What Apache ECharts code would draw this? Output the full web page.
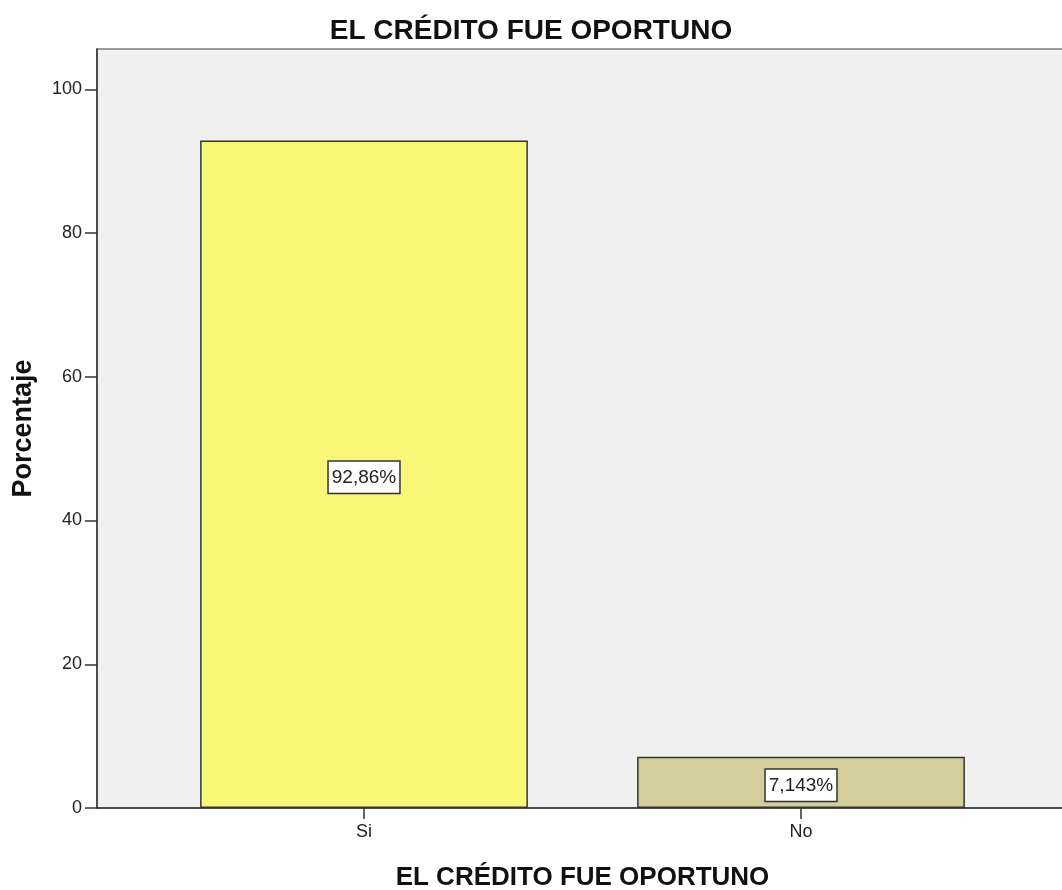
<!DOCTYPE html>
<html>
<head>
<meta charset="utf-8">
<script src="https://cdn.jsdelivr.net/npm/echarts@6/dist/echarts.min.js"></script>
<style>
  html, body { margin: 0; padding: 0; background: #fff; }
  #chart { width: 1062px; height: 890px; }
</style>
</head>
<body>
<div id="chart"></div>
<script>
// datos del gráfico
const categorias = ['Si', 'No']
const porcentajes = [92.86, 7.143]
const etiquetas = ['92,86%', '7,143%']
const coloresBarra = ['#f9f777', '#d4cf9a']
const ticksY = [0, 20, 40, 60, 80, 100]

const chart = echarts.init(document.getElementById('chart'))

const yMax = 105.6
const font = 'Liberation Sans, Arial, sans-serif'

const option = {
  animation: false,
  title: {
    text: 'EL CRÉDITO FUE OPORTUNO',
    left: 'center',
    top: 12,
    textStyle: { fontFamily: font, fontSize: 28, fontWeight: 'bold', color: '#111' }
  },
  grid: [
    // área del gráfico (fondo y ejes)
    { left: 97, width: 975, top: 49, bottom: 82, outerBoundsMode: 'none', show: true, backgroundColor: '#f0f0f0', borderColor: '#999', borderWidth: 2 },
    // barras
    { left: 145.5, width: 874, top: 49, bottom: 82, outerBoundsMode: 'none' }
  ],
  xAxis: [
    {
      gridIndex: 0,
      type: 'value',
      min: 0,
      max: 1,
      axisLine: { show: true, lineStyle: { color: '#333', width: 1.5 } },
      axisTick: { show: false },
      axisLabel: { show: false },
      splitLine: { show: false }
    },
    {
      gridIndex: 1,
      type: 'category',
      data: categorias,
      name: 'EL CRÉDITO FUE OPORTUNO',
      nameLocation: 'middle',
      nameGap: 57,
      nameTextStyle: { fontFamily: font, fontSize: 26, fontWeight: 'bold', color: '#111' },
      axisLine: { show: false },
      axisTick: { show: true, alignWithLabel: true, length: 11, lineStyle: { color: '#333', width: 1.5 } },
      axisLabel: { fontFamily: font, fontSize: 18, color: '#222', margin: 15 }
    }
  ],
  yAxis: [
    {
      gridIndex: 0,
      type: 'value',
      min: 0,
      max: yMax,
      name: 'Porcentaje',
      nameLocation: 'middle',
      nameGap: 60,
      nameTextStyle: { fontFamily: font, fontSize: 27, fontWeight: 'bold', color: '#111' },
      axisLine: { show: true, lineStyle: { color: '#333', width: 1.5 } },
      axisTick: { show: true, length: 12, customValues: ticksY, lineStyle: { color: '#333', width: 1.5 } },
      axisLabel: { fontFamily: font, fontSize: 18, color: '#222', margin: 15, customValues: ticksY },
      splitLine: { show: false }
    },
    {
      gridIndex: 1,
      type: 'value',
      min: 0,
      max: yMax,
      show: false,
      splitLine: { show: false }
    }
  ],
  series: [
    {
      type: 'bar',
      xAxisIndex: 1,
      yAxisIndex: 1,
      barWidth: '75%',
      data: porcentajes.map((v, i) => ({
        value: v,
        itemStyle: { color: coloresBarra[i] }
      })),
      itemStyle: { borderColor: '#333', borderWidth: 1.5 },
      label: {
        show: true,
        position: 'inside',
        offset: [0, 3],
        formatter: p => etiquetas[p.dataIndex],
        fontFamily: font,
        fontSize: 19,
        lineHeight: 24,
        color: '#222',
        backgroundColor: '#fff',
        borderColor: '#333',
        borderWidth: 1.5,
        padding: [4, 3, 3, 3]
      }
    }
  ]
}

chart.setOption(option)
</script>
</body>
</html>
